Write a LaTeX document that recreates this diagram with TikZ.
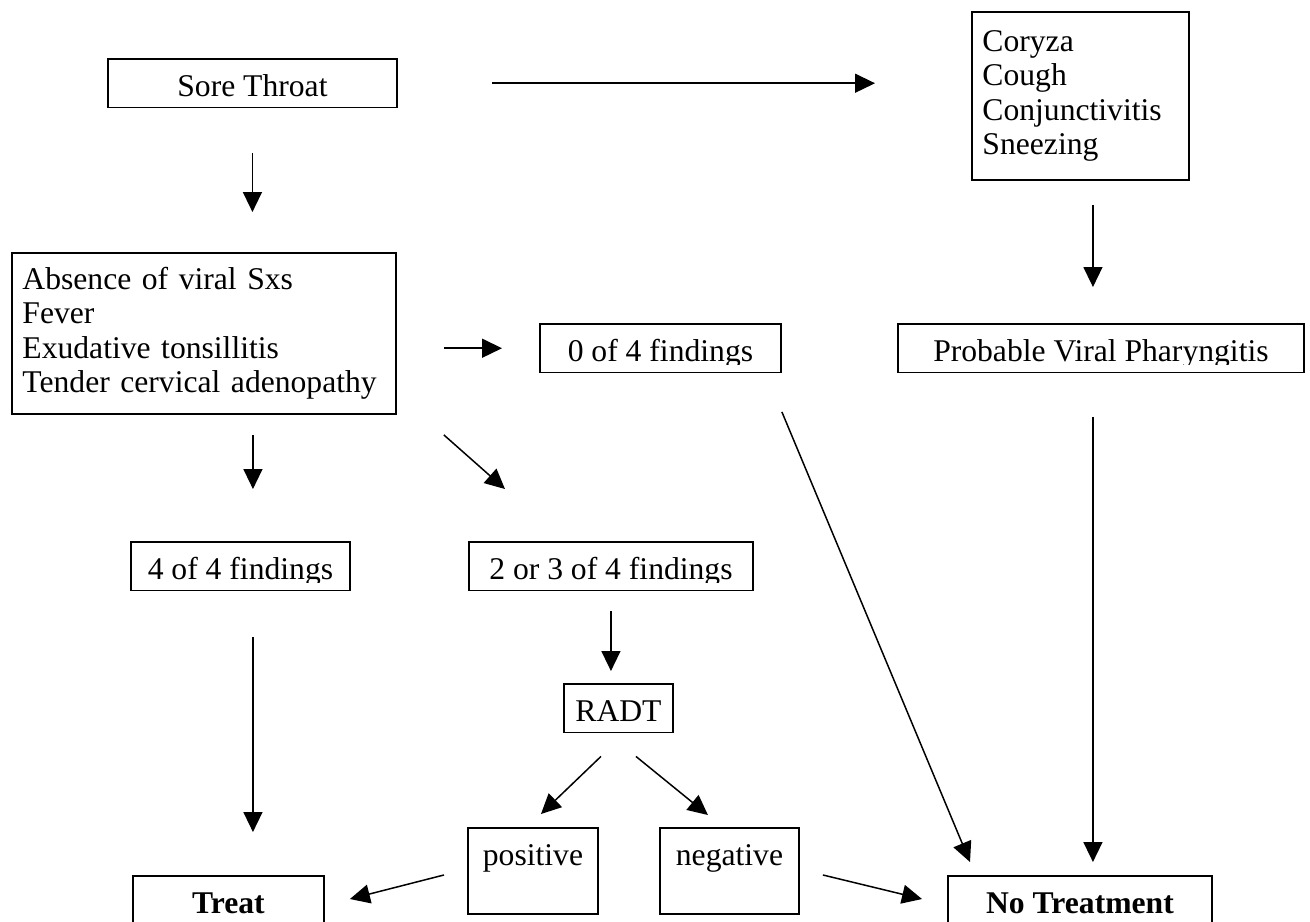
\documentclass[tikz,border=0pt]{standalone}
\usepackage{fontspec}
\setmainfont{Liberation Serif}
\usetikzlibrary{arrows.meta}

\begin{document}
\begin{tikzpicture}[x=0.02cm, y=-0.02cm, font=\fontsize{18}{19.6}\selectfont,
		box/.style={draw, line width=1.1pt, anchor=north west, inner xsep=0.2cm, inner ysep=0pt, text height=0.76cm, text depth=0.21cm},
		res/.style={box, text depth=0.96cm},
		fin/.style={box, text depth=1.2cm, font=\fontsize{18}{19.6}\selectfont\bfseries},
		list/.style={draw, line width=1.1pt, anchor=north west, align=left, inner xsep=0.21cm, inner ysep=0pt},
		arr/.style={-{Triangle[length=0.4cm,width=0.38cm]}, line width=0.85pt}]
	\useasboundingbox (0,0) rectangle (1310,921);
	\node[box, minimum width=5.78cm] (st) at (107,58) {Sore Throat};
	\node[list, text width=3.92cm, minimum height=3.36cm] (cor) at (971,11) {Coryza\\Cough\\Conjunctivitis\\Sneezing};
	\node[list, text width=7.26cm, minimum height=3.22cm] (abs) at (11,252) {Absence of viral Sxs\\Fever\\Exudative tonsillitis\\Tender cervical adenopathy};
	\node[box, minimum width=4.82cm] (zero) at (539,323) {0 of 4 findings};
	\node[box, minimum width=8.12cm] (pvp) at (897,323) {Probable Viral Pharyngitis};
	\node[box, minimum width=4.38cm] (four) at (130,541) {4 of 4 findings};
	\node[box, minimum width=5.68cm] (some) at (468,541) {2 or 3 of 4 findings};
	\node[box, minimum width=2.18cm] (radt) at (563,683) {RADT};
	\node[res, minimum width=2.6cm] (pos) at (467,827) {positive};
	\node[res, minimum width=2.78cm] (neg) at (659,827) {negative};
	\node[fin, minimum width=3.82cm] (treat) at (132,875) {Treat};
	\node[fin, minimum width=5.28cm] (notr) at (947,875) {No Treatment};
	\foreach \n in {zero,pvp,four,some}
		\fill[white] ([shift={(0.035cm,0.035cm)}]\n.south west) rectangle ([shift={(-0.035cm,0.17cm)}]\n.south east);
	\draw[arr, shorten <=1.88cm, shorten >=1.92cm] (st.east) -- (st.east -| cor.west);
	\draw[arr, shorten <=0.48cm, shorten >=0.72cm] ([xshift=0.25cm]cor.south) -- ([xshift=0.25cm]cor.south |- pvp.north);
	\draw[arr, shorten <=0.9cm, shorten >=0.8cm] (st.south) -- (st.south |- abs.north);
	\draw[arr, shorten <=0.94cm, shorten >=0.74cm] (zero.west -| abs.east) -- (zero.west);
	\draw[arr, shorten <=0.4cm, shorten >=1.04cm] ([xshift=0.25cm]four.north |- abs.south) -- ([xshift=0.25cm]four.north);
	\draw[arr] ([xshift=0.94cm,yshift=-0.4cm]abs.south east) -- ([xshift=0.74cm,yshift=1.04cm]some.north west);
	\draw[arr, shorten <=0.92cm, shorten >=0.86cm] ([xshift=0.25cm]four.south) -- ([xshift=0.25cm]four.south |- treat.north);
	\draw[arr, shorten <=0.4cm, shorten >=0.24cm] (some.south) -- (some.south |- radt.north);
	\draw[arr] ([xshift=-0.35cm,yshift=-0.46cm]radt.south) -- ([xshift=0.16cm,yshift=0.26cm]pos.north);
	\draw[arr] ([xshift=0.35cm,yshift=-0.46cm]radt.south) -- ([xshift=-0.43cm,yshift=0.24cm]neg.north);
	\draw[arr] ([xshift=-0.46cm,yshift=-0.08cm]pos.west) -- ([xshift=0.5cm,yshift=-0.48cm]treat.north east);
	\draw[arr] ([xshift=0.46cm,yshift=-0.08cm]neg.east) -- ([xshift=-0.5cm,yshift=-0.48cm]notr.north west);
	\draw[arr] ([yshift=-0.77cm]zero.south east) -- ([xshift=0.46cm,yshift=0.26cm]notr.north west);
	\draw[arr, shorten <=0.87cm, shorten >=0.26cm] ([xshift=-0.16cm]pvp.south) -- ([xshift=-0.16cm]pvp.south |- notr.north);
\end{tikzpicture}
\end{document}
